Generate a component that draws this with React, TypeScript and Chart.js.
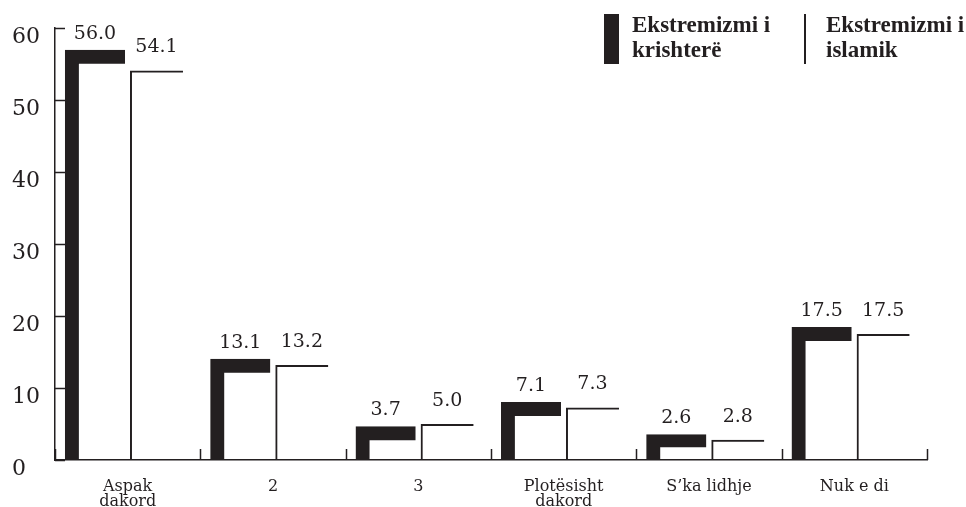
import React, { useEffect, useRef } from 'react';
import { Chart, registerables } from 'chart.js';

Chart.register(...registerables);

const INK = '#231f20';

const categories: (string | string[])[] = [['Aspak', 'dakord'], '2', '3', ['Plotësisht', 'dakord'], 'S’ka lidhje', 'Nuk e di'];
const seriesLines: string[][] = [['Ekstremizmi i', 'krishterë'], ['Ekstremizmi i', 'islamik']];
const christian = [56.0, 13.1, 3.7, 7.1, 2.6, 17.5];
const islamic = [54.1, 13.2, 5.0, 7.3, 2.8, 17.5];
const yTicks = [0, 10, 20, 30, 40, 50, 60];

const THICK = 14;
const THIN = 2;

const bandShift = {
  id: 'bandShift',
  afterDatasetsUpdate(chart: any) {
    const meta = chart.getDatasetMeta(0);
    meta.data.forEach((el: any) => {
      el.y -= THICK / 2;
    });
  },
};

const innerTicks = {
  id: 'innerTicks',
  afterDatasetsDraw(chart: any) {
    const { ctx } = chart;
    const x = chart.scales.x;
    const y = chart.scales.y;
    ctx.save();
    ctx.strokeStyle = INK;
    ctx.lineWidth = 1.5;
    ctx.beginPath();
    yTicks.forEach((v) => {
      const py = Math.round(y.getPixelForValue(v)) + 0.5;
      ctx.moveTo(y.right, py);
      ctx.lineTo(y.right + 10, py);
    });
    for (let i = 0; i <= categories.length; i++) {
      const px = Math.round(x.getPixelForValue(i - 0.5)) + 0.5;
      ctx.moveTo(px, x.top);
      ctx.lineTo(px, x.top - 11);
    }
    ctx.stroke();
    ctx.restore();
  },
};

const valueLabels = {
  id: 'valueLabels',
  afterDatasetsDraw(chart: any) {
    const { ctx } = chart;
    const y = chart.scales.y;
    ctx.save();
    ctx.fillStyle = INK;
    ctx.font = '19px "DejaVu Serif"';
    ctx.textAlign = 'center';
    ctx.textBaseline = 'alphabetic';
    chart.data.datasets.forEach((ds: any, di: number) => {
      const meta = chart.getDatasetMeta(di);
      meta.data.forEach((el: any, i: number) => {
        const v = ds.data[i];
        const py = y.getPixelForValue(v);
        ctx.fillText(v.toFixed(1), el.x, py - 18);
      });
    });
    ctx.restore();
  },
};

export default function App() {
  const ref = useRef<HTMLCanvasElement | null>(null);

  useEffect(() => {
    if (!ref.current) return;
    const chart = new Chart(ref.current, {
      type: 'bar',
      data: {
        labels: categories,
        datasets: [
          {
            label: seriesLines[0].join(' '),
            data: christian,
            backgroundColor: 'rgba(0,0,0,0)',
            borderColor: INK,
            borderWidth: { left: THICK, top: THICK, right: 0, bottom: 0 },
            borderSkipped: false,
            categoryPercentage: 0.9,
            barPercentage: 0.92,
          },
          {
            label: seriesLines[1].join(' '),
            data: islamic,
            backgroundColor: 'rgba(0,0,0,0)',
            borderColor: INK,
            borderWidth: { left: THIN, top: THIN, right: 0, bottom: 0 },
            borderSkipped: false,
            categoryPercentage: 0.793,
            barPercentage: 0.92,
          },
        ],
      },
      options: {
        responsive: false,
        animation: false,
        layout: { padding: { left: 12, top: 28, right: 39, bottom: 0 } },
        plugins: {
          legend: { display: false },
          tooltip: { enabled: false },
        },
        scales: {
          x: {
            offset: true,
            grid: { display: false, drawTicks: false },
            border: { display: true, color: INK, width: 1.5 },
            ticks: {
              color: INK,
              padding: 19,
              maxRotation: 0,
              autoSkip: false,
              font: { family: '"DejaVu Serif"', size: 16, lineHeight: 0.95 },
            },
            afterFit(scale: any) {
              scale.height = 47;
            },
          },
          y: {
            min: 0,
            max: 60,
            grid: { display: false, drawTicks: false },
            border: { display: true, color: INK, width: 1.5 },
            ticks: {
              stepSize: 10,
              color: INK,
              crossAlign: 'far',
              labelOffset: 9,
              font: { family: '"DejaVu Serif"', size: 22 },
            },
            afterFit(scale: any) {
              scale.width = 43;
            },
          },
        },
      },
      plugins: [bandShift, innerTicks, valueLabels],
    } as any);
    return () => chart.destroy();
  }, []);

  const legendText: React.CSSProperties = {
    position: 'absolute',
    top: 12,
    fontFamily: '"Liberation Serif", serif',
    fontWeight: 'bold',
    fontSize: 23,
    lineHeight: '25px',
    color: INK,
    whiteSpace: 'nowrap',
  };

  return (
    <div style={{ position: 'fixed', left: 0, top: 0, width: 966, height: 507, background: '#fff' }}>
      <canvas ref={ref} width={966} height={507} style={{ display: 'block' }} />
      <div style={{ position: 'absolute', left: 604, top: 14, width: 15, height: 50, background: INK }} />
      <div style={{ ...legendText, left: 632 }}>
        {seriesLines[0].map((l, i) => (
          <div key={i}>{l}</div>
        ))}
      </div>
      <div style={{ position: 'absolute', left: 804, top: 14, width: 2, height: 50, background: INK }} />
      <div style={{ ...legendText, left: 826 }}>
        {seriesLines[1].map((l, i) => (
          <div key={i}>{l}</div>
        ))}
      </div>
    </div>
  );
}
